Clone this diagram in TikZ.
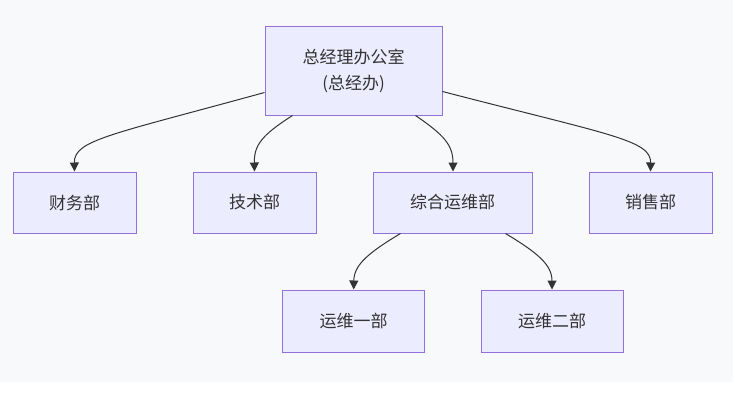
\documentclass[tikz,border=0pt]{standalone}
\usepackage{fontspec}
\setmainfont{Noto Sans CJK SC}
\usetikzlibrary{arrows.meta}
\definecolor{bgc}{HTML}{F8F9FB}
\definecolor{nfill}{HTML}{ECECFF}
\definecolor{nline}{HTML}{9370DB}
\definecolor{tcol}{HTML}{333333}
\begin{document}
\begin{tikzpicture}[x=1pt,y=-1pt,
  box/.style={draw=nline,fill=nfill,line width=1pt,text=tcol,font=\fontsize{17}{26}\selectfont,
    align=center,inner sep=0pt,minimum height=61pt},
  conn/.style={draw=tcol,line width=1pt,-{Triangle[length=9pt,width=9pt]}}]
\useasboundingbox (0,0) rectangle (735,402);
\fill[bgc] (0,0) rectangle (733,382);
\node[box,minimum width=177pt,minimum height=89pt] (top) at (353.5,70.5) {总经理办公室\\(总经办)};
\node[box,minimum width=123pt] (cw) at (74.5,202.5) {财务部};
\node[box,minimum width=123pt] (js) at (254.5,202.5) {技术部};
\node[box,minimum width=159pt] (zh) at (452.5,202.5) {综合运维部};
\node[box,minimum width=123pt] (xs) at (650.5,202.5) {销售部};
\node[box,minimum width=142pt,minimum height=62pt] (y1) at (353.7,321) {运维一部};
\node[box,minimum width=142pt,minimum height=62pt] (y2) at (552,321) {运维二部};
\draw[conn] ([yshift=-22pt]top.west) .. controls (110,135) and (74,140) .. (cw.north);
\draw[conn] ([xshift=28pt]top.south west) .. controls (262,135) and (254,145) .. (js.north);
\draw[conn] ([xshift=-27pt]top.south east) .. controls (444,135) and (453,145) .. ([xshift=0.5pt]zh.north);
\draw[conn] ([yshift=-21pt]top.east) .. controls (610,135) and (651,140) .. (xs.north);
\draw[conn] ([xshift=28pt]zh.south west) .. controls (368,253) and (354,265) .. (y1.north);
\draw[conn] ([xshift=-27pt]zh.south east) .. controls (538,253) and (552,265) .. (y2.north);
\end{tikzpicture}
\end{document}
